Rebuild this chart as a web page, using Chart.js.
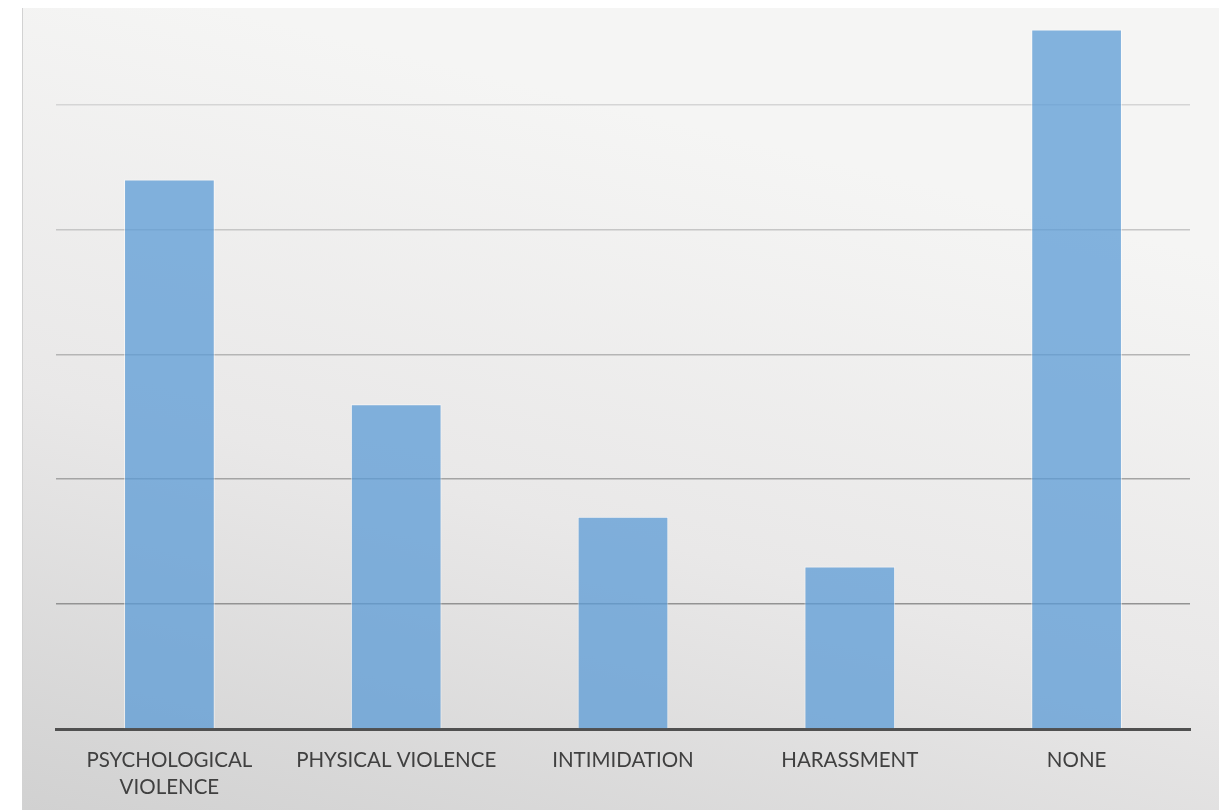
<!DOCTYPE html>
<html lang="en">
<head>
    <meta charset="UTF-8">
    <title>Types of violence</title>
    <style>
        html, body { margin: 0; background: #ffffff; }
        #wrap { position: relative; width: 1219px; height: 810px; }
        canvas { display: block; }
    </style>
</head>
<body>
<div id="wrap">
    <canvas id="myChart" width="1219" height="810"></canvas>
</div>

<script src="https://cdn.jsdelivr.net/npm/chart.js"></script>
<script>
// categories and counts
const categories = [['PSYCHOLOGICAL', 'VIOLENCE'], 'PHYSICAL VIOLENCE', 'INTIMIDATION', 'HARASSMENT', 'NONE'];
const values = [44, 26, 17, 13, 56];
const axisMax = 57;
const gridStep = 10;

// grey gridlines, lighter toward the top
const gridShades = { 10: '#939393', 20: '#a4a4a4', 30: '#b5b5b5', 40: '#c6c6c6', 50: '#d5d5d5' };

// chart panel background: soft grey gradient with a thin left edge
const panelBackground = {
    id: 'panelBackground',
    beforeDraw(chart) {
        const c = chart.ctx;
        const x0 = 22, y0 = 8, x1 = chart.width, y1 = chart.height;
        const g = c.createLinearGradient(x0 + 200, y0, x0, y1);
        g.addColorStop(0, '#f5f5f4');
        g.addColorStop(0.5, '#e9e8e8');
        g.addColorStop(1, '#d1d1d1');
        c.save();
        c.fillStyle = g;
        c.fillRect(x0, y0, x1 - x0, y1 - y0);
        c.fillStyle = '#d2d2d2';
        c.fillRect(x0, y0, 1, y1 - y0);
        c.restore();
    }
};

const ctx = document.getElementById('myChart').getContext('2d');
const myChart = new Chart(ctx, {
    type: 'bar',
    data: {
        labels: categories,
        datasets: [{
            data: values,
            backgroundColor: 'rgba(91, 155, 213, 0.75)',
            borderColor: 'rgba(255, 255, 255, 0.55)',
            borderWidth: 1,
            barPercentage: 0.4,
            categoryPercentage: 1.0
        }]
    },
    options: {
        responsive: false,
        animation: false,
        layout: { padding: { left: 56, right: 29, top: 17, bottom: 0 } },
        plugins: {
            legend: { display: false },
            tooltip: { enabled: false }
        },
        scales: {
            y: {
                min: 0,
                max: axisMax,
                ticks: { display: false, stepSize: gridStep },
                border: { display: false },
                grid: {
                    drawTicks: false,
                    lineWidth: 1.5,
                    color: (c) => gridShades[c.tick && c.tick.value] || 'rgba(0,0,0,0)'
                },
                afterFit(scale) { scale.width = 0; }
            },
            x: {
                grid: { display: false, drawTicks: false },
                border: { display: true, color: '#505050', width: 3 },
                ticks: {
                    color: '#404040',
                    autoSkip: false,
                    maxRotation: 0,
                    padding: 18,
                    font: { family: 'Lato', size: 20.5, lineHeight: 1.3 }
                },
                afterFit(scale) { scale.height = 81; }
            }
        }
    },
    plugins: [panelBackground]
});
</script>
</body>
</html>
